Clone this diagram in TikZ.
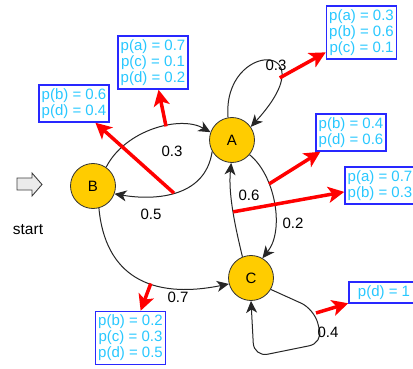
\documentclass[tikz,border=0pt]{standalone}
\usepackage{fontspec}
\setmainfont{Liberation Sans}
\usetikzlibrary{arrows.meta}
\definecolor{nodefill}{RGB}{255,204,0}
\definecolor{boxtext}{RGB}{40,200,255}
\definecolor{boxline}{RGB}{40,40,255}
\tikzset{
 state/.style={circle, draw=black!80, line width=0.8pt, fill=nodefill, minimum size=45pt, inner sep=0pt, font=\fontsize{15}{15}\selectfont},
 trans/.style={draw=black!85, line width=1pt, -{Stealth[length=12pt,width=11pt,inset=3.5pt]}},
 elabel/.style={font=\fontsize{15}{15}\selectfont, inner sep=0pt},
 probbox/.style={draw=boxline, line width=1.5pt, fill=white, text=boxtext, align=center, font=\fontsize{15}{16}\selectfont, minimum width=70pt, inner xsep=1pt, inner ysep=3.5pt},
 redarr/.style={draw=red, line width=3.5pt, -{Stealth[length=16pt,width=16pt,inset=4pt]}},
 startarrow/.style={draw=black!75, fill=black!8, line width=0.9pt, line join=miter},
}
\begin{document}
\begin{tikzpicture}[x=1pt,y=-1pt]
\useasboundingbox (0,0) rectangle (413,369);
\clip (0,0) rectangle (413,369);
\fill[white] (0,0) rectangle (413,369);

% states
\node[state] (A) at (232,140) {A};
\node[state] (B) at (93,186) {B};
\node[state] (C) at (251,278) {C};

% start marker
\draw[startarrow] (17,178) -- (32,178) -- (32,173) -- (42,184.5) -- (32,196) -- (32,190) -- (17,190) -- cycle;
\node[font=\fontsize{15.5}{15.5}\selectfont] (start) at (28,230) {start};

% transitions
\draw[trans] (B.55) .. controls (125,130) and (180,115) .. coordinate[pos=0.6] (mBA) (A.160);
\draw[trans] (A.210) .. controls (205,200) and (150,200) .. coordinate[pos=0.5] (mAB) (B.-20);
\draw[trans] (A.100) .. controls (222,40) and (330,40) .. coordinate[pos=0.75] (mAA) (A.35);
\draw[trans] (A.-40) .. controls (275,175) and (285,230) .. coordinate[pos=0.33] (mAC) (C.60);
\draw[trans] (C.112) .. controls (236,230) and (228,195) .. coordinate[pos=0.5] (mCA) (A.-92);
\draw[trans] (B.-75) .. controls (105,275) and (150,300) .. coordinate[pos=0.6] (mBC) (C.195);
\coordinate (mCC) at (316,313);
\draw[trans, rounded corners=14pt] (C.-30) -- (314,309) -- (323,343) -- (254,357) -- (C.-90);

% labels
\node[elabel] (lBA) at (172,151) {0.3};
\node[elabel] (lAB) at (151,214) {0.5};
\node[elabel] (lAA) at (276,65) {0.3};
\node[elabel] (lAC) at (293,223) {0.2};
\node[elabel] (lCA) at (249,195) {0.6};
\node[elabel] (lBC) at (178,297) {0.7};
\node[elabel] (lCC) at (328,332) {0.4};

% probability boxes
\node[probbox] (bAA) at (361.5,32.5) {p(a) = 0.3\\p(b) = 0.6\\p(c) = 0.1};
\node[probbox] (bBA) at (153,62.5) {p(a) = 0.7\\p(c) = 0.1\\p(d) = 0.2};
\node[probbox] (bAB) at (74,103.5) {p(b) = 0.6\\p(d) = 0.4};
\node[probbox] (bAC) at (351,132.5) {p(b) = 0.4\\p(d) = 0.6};
\node[probbox] (bCA) at (380,185.5) {p(a) = 0.7\\p(b) = 0.3};
\node[probbox] (bBC) at (130.5,338) {p(b) = 0.2\\p(c) = 0.3\\p(d) = 0.5};
\node[probbox] (bCC) at (384,292.5) {p(d) = 1};

% emission arrows
\draw[redarr] (mBA) -- (bBA);
\draw[redarr] (mAB) -- (bAB);
\draw[redarr] (mAA) -- (bAA);
\draw[redarr] (mAC) -- (bAC);
\draw[redarr] (mCA) -- (bCA);
\draw[redarr] (mBC) -- (bBC);
\draw[redarr] (mCC) -- (bCC);
\end{tikzpicture}
\end{document}
